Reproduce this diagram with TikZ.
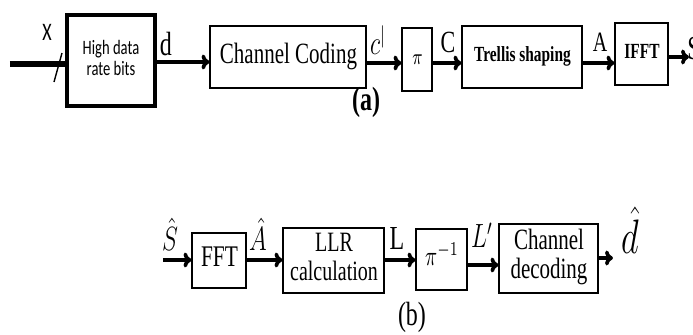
\documentclass[tikz,border=0pt]{standalone}
\usepackage{fontspec}
\setmainfont{Liberation Serif}
\newfontfamily\calibri{Carlito}
\usetikzlibrary{arrows.meta}
% box texts are drawn a bit taller than wide
\newcommand{\tall}[1]{\scalebox{1}[1.4]{\begin{tabular}{@{}c@{}}#1\end{tabular}}}

\tikzset{
  blk/.style={draw, line width=1pt, inner sep=0pt, align=center},
  arr/.style={line width=1.8pt, -{To[length=4pt,width=7.5pt]}},
  lbl/.style={inner sep=0pt},
}

\begin{document}
\begin{tikzpicture}[x=0.5pt, y=-0.5pt]
	\useasboundingbox (0,0) rectangle (693,334);
	
	% (a) transmitter
	\node[blk, line width=2pt, minimum width=44pt, minimum height=45.5pt, font=\calibri\fontsize{7.3}{7.4}\selectfont] (bits) at (111,60.5) {\tall{High data\\rate bits}};
	\node[blk, minimum width=78pt, minimum height=31pt, font=\fontsize{10.5}{12}\selectfont] (coding) at (288.5,56.5) {\tall{Channel Coding}};
	\node[blk, minimum width=15pt, minimum height=31.5pt, font=\fontsize{8}{9}\selectfont] (perm) at (417.5,59) {\tall{$\pi$}};
	\node[blk, minimum width=60pt, minimum height=31pt, font=\bfseries\fontsize{7.7}{9}\selectfont] (trellis) at (522.5,56.5) {\tall{Trellis shaping}};
	\node[blk, minimum width=26.5pt, minimum height=31pt, font=\bfseries\fontsize{7.7}{9}\selectfont] (ifft) at (642,53.5) {\tall{IFFT}};
	
	\coordinate (xin) at (10,64);
	\coordinate (sout) at (689,57);
	\draw[line width=2.6pt] (xin) -- (bits.west |- xin);
	\draw[line width=0.7pt] (54,82) -- (62,53);
	\draw[arr] (bits.east |- 0,62) -- (coding.west |- 0,62);
	\draw[arr] (coding.east |- 0,63) -- (perm.west |- 0,63);
	\draw[arr] (perm.east |- 0,63) -- (trellis.west |- 0,63);
	\draw[arr] (trellis.east |- 0,63) -- (ifft.west |- 0,63);
	\draw[arr] (ifft.east |- sout) -- (sout);
	
	\node[lbl, font=\calibri\fontsize{9}{10}\selectfont] (xlab) at (47,35) {\tall{X}};
	\node[lbl, font=\fontsize{12}{14}\selectfont] (dlab) at (166,48) {\tall{d}};
	\node[lbl, font=\fontsize{12}{14}\selectfont] (cplab) at (378,46) {\tall{$c^{|}$}};
	\node[lbl, font=\fontsize{11}{13}\selectfont] (clab) at (448,45) {\tall{C}};
	\node[lbl, font=\fontsize{10}{12}\selectfont] (alab) at (600,45) {\tall{A}};
	\node[lbl, anchor=west, font=\fontsize{12}{14}\selectfont] (slab) at (687,52) {\tall{S}};
	\node[lbl, font=\bfseries\fontsize{12}{14}\selectfont] (cap-a) at (366,103) {\tall{(a)}};
	
	% (b) receiver
	\node[blk, minimum width=27pt, minimum height=27.5pt, font=\fontsize{10.7}{12}\selectfont] (fft) at (219.5,260) {\tall{FFT}};
	\node[blk, minimum width=50.5pt, minimum height=32.5pt, font=\fontsize{10}{10.4}\selectfont] (llr) at (334,260) {\tall{LLR\\calculation}};
	\node[blk, minimum width=25.5pt, minimum height=30.5pt, font=\fontsize{10}{12}\selectfont] (pinv) at (442,259) {\tall{$\pi^{-1}$}};
	\node[blk, minimum width=49.5pt, minimum height=34.5pt, font=\fontsize{10.5}{9.8}\selectfont] (decoding) at (549,258) {\tall{Channel\\decoding}};
	
	\coordinate (sin) at (163,260);
	\coordinate (dout) at (613,258);
	\draw[arr] (sin) -- (fft.west |- sin);
	\draw[arr] (fft.east |- 0,260) -- (llr.west |- 0,260);
	\draw[arr] (llr.east |- 0,260) -- (pinv.west |- 0,260);
	\draw[arr] (pinv.east |- 0,265) -- (decoding.west |- 0,265);
	\draw[arr] (decoding.east |- dout) -- (dout);
	
	\node[lbl, font=\fontsize{12}{14}\selectfont] (shlab) at (170,240) {\tall{$\hat{S}$}};
	\node[lbl, font=\fontsize{12}{14}\selectfont] (ahlab) at (258,240) {\tall{$\hat{A}$}};
	\node[lbl, font=\fontsize{12}{14}\selectfont] (llab) at (397,242) {\tall{L}};
	\node[lbl, font=\fontsize{12}{14}\selectfont] (lplab) at (482,240) {\tall{$L'$}};
	\node[lbl, font=\fontsize{16}{18}\selectfont] (dhlab) at (630,238) {\tall{$\hat{d}$}};
	\node[lbl, font=\fontsize{12}{14}\selectfont] (cap-b) at (412,318) {\tall{(b)}};
\end{tikzpicture}
\end{document}
